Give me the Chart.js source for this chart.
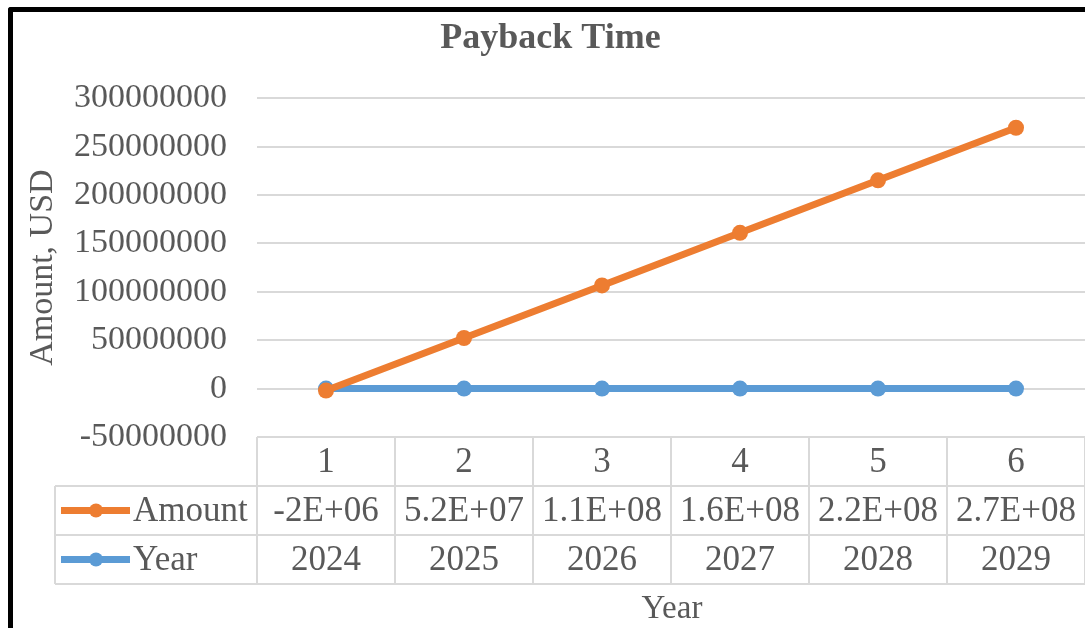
<!DOCTYPE html>
<html>
<head>
<meta charset="utf-8">
<script src="https://cdn.jsdelivr.net/npm/chart.js@4/dist/chart.umd.min.js"></script>
<style>
  html, body { margin: 0; padding: 0; background: #fff; overflow: hidden; }
  #wrap { position: relative; width: 1085px; height: 628px; overflow: hidden; }
  #c { display: block; }
  #frame { position: absolute; left: 8px; top: 7px; width: 1100px; height: 640px;
           border-left: 5px solid #000; border-top: 5px solid #000; border-top-left-radius: 3px;
           pointer-events: none; }
</style>
</head>
<body>
<div id="wrap">
  <canvas id="c" width="1085" height="628"></canvas>
  <div id="frame"></div>
</div>
<script>
// ---- data ----
const categories = ['1', '2', '3', '4', '5', '6'];
const amountValues = [-2000000, 52300000, 106600000, 160900000, 215200000, 269500000];
const yearValues = [2024, 2025, 2026, 2027, 2028, 2029];
const seriesNames = ['Amount', 'Year'];
const chartTitle = 'Payback Time';
const yTitle = 'Amount, USD';
const xTitle = 'Year';
const yMin = -50000000, yMax = 300000000, yStep = 50000000;

const TEXT = '#595959';
const GRID = '#d9d9d9';
const ORANGE = '#ED7D31';
const BLUE = '#5B9BD5';
const SERIF = '"Liberation Serif", "Times New Roman", serif';

function excelSci(v) {
  let [m, e] = v.toExponential(1).split('e');
  if (m.endsWith('.0')) m = m.slice(0, -2);
  return m + 'E' + e[0] + e.slice(1).padStart(2, '0');
}

const tableRows = [
  { name: seriesNames[0], color: ORANGE, cells: amountValues.map(excelSci) },
  { name: seriesNames[1], color: BLUE, cells: yearValues.map(String) }
];

const dataTablePlugin = {
  id: 'dataTable',
  afterDraw(chart) {
    const ctx = chart.ctx;
    const area = chart.chartArea;
    const xs = chart.scales.x;
    const n = categories.length;
    const w = area.width / n;
    const rowH = 49;
    const top = area.bottom;
    const legendLeft = 55;
    ctx.save();
    ctx.strokeStyle = GRID;
    ctx.lineWidth = 2;
    ctx.beginPath();
    ctx.moveTo(area.left, top); ctx.lineTo(area.right, top);
    for (let r = 1; r <= 3; r++) {
      ctx.moveTo(legendLeft, top + r * rowH); ctx.lineTo(area.right, top + r * rowH);
    }
    for (let i = 0; i <= n; i++) {
      const x = area.left + i * w;
      ctx.moveTo(x, top); ctx.lineTo(x, top + 3 * rowH);
    }
    ctx.moveTo(legendLeft, top + rowH); ctx.lineTo(legendLeft, top + 3 * rowH);
    ctx.stroke();

    ctx.fillStyle = TEXT;
    ctx.font = '35px ' + SERIF;
    ctx.textAlign = 'center';
    ctx.textBaseline = 'middle';
    for (let i = 0; i < n; i++) {
      const cx = xs.getPixelForValue(i);
      ctx.fillText(categories[i], cx, top + rowH * 0.5 + 1);
      tableRows.forEach((row, r) => {
        ctx.fillText(row.cells[i], cx, top + rowH * (r + 1.5) + 1);
      });
    }
    tableRows.forEach((row, r) => {
      const y = top + rowH * (r + 1.5);
      ctx.strokeStyle = row.color;
      ctx.lineWidth = 7;
      ctx.beginPath();
      ctx.moveTo(61, y); ctx.lineTo(130, y);
      ctx.stroke();
      ctx.fillStyle = row.color;
      ctx.beginPath();
      ctx.arc(96, y, 7, 0, Math.PI * 2);
      ctx.fill();
      ctx.fillStyle = TEXT;
      ctx.textAlign = 'left';
      ctx.fillText(row.name, 133, y + 1);
    });
    ctx.textAlign = 'center';
    ctx.font = '33px ' + SERIF;
    ctx.fillText(xTitle, 672, top + 3 * rowH + 25);
    ctx.restore();
  }
};

new Chart(document.getElementById('c'), {
  type: 'line',
  data: {
    labels: categories,
    datasets: [
      { label: seriesNames[0], data: amountValues, borderColor: ORANGE, backgroundColor: ORANGE,
        borderWidth: 7, pointRadius: 8, pointBorderWidth: 0, pointHoverRadius: 8, tension: 0 },
      { label: seriesNames[1], data: yearValues, borderColor: BLUE, backgroundColor: BLUE,
        borderWidth: 7, pointRadius: 8, pointBorderWidth: 0, pointHoverRadius: 8, tension: 0 }
    ]
  },
  options: {
    responsive: false,
    devicePixelRatio: 1,
    animation: false,
    events: [],
    layout: { autoPadding: false, padding: { left: 14, right: -2, top: 0, bottom: 191 } },
    plugins: {
      legend: { display: false },
      tooltip: { enabled: false },
      title: {
        display: true, text: chartTitle, color: TEXT,
        font: { family: SERIF, size: 36, weight: 'bold', lineHeight: 1.2 },
        padding: { top: 17, bottom: 38 }
      }
    },
    scales: {
      x: { type: 'category', display: false, offset: true },
      y: {
        min: yMin, max: yMax,
        afterFit(scale) { scale.width = 243; },
        ticks: { stepSize: yStep, color: TEXT, padding: 30,
                 font: { family: SERIF, size: 34 },
                 callback: v => String(v) },
        grid: { color: GRID, lineWidth: 2, drawTicks: false },
        border: { display: false },
        title: { display: true, text: yTitle, color: TEXT,
                 font: { family: SERIF, size: 34, lineHeight: 1.2 },
                 padding: { top: 9, bottom: 0 } }
      }
    }
  },
  plugins: [dataTablePlugin]
});
</script>
</body>
</html>
